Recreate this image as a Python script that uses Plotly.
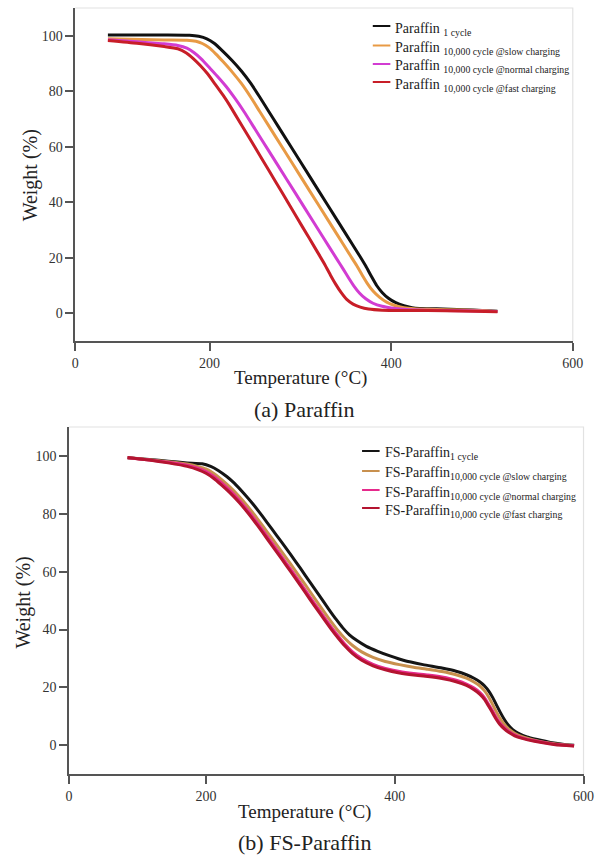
import plotly.graph_objects as go

# ---------------- (a) Paraffin ----------------
pa_black_T = [88,150,178,188,197,205,215,225,235,245,255,265,275,290,310,330,350,365,372,378,384,390,397,405,414,423,431,450,480,500,517]
pa_black_W = [100.3,100.3,100.2,99.8,98.9,97.3,94.3,91.0,87.3,83.0,78.0,72.8,67.6,59.8,49.4,39.0,28.6,20.8,17.0,13.4,10.0,7.5,5.4,3.8,2.7,2.0,1.7,1.6,1.3,1.0,0.7]

pa_slow_T = [88,150,175,185,192,199,207,215,225,235,245,255,265,280,300,320,340,355,362,368,374,380,387,395,404,414,425,440,480,500,517]
pa_slow_W = [98.9,98.5,98.4,98.0,97.2,95.8,93.4,90.6,86.9,82.8,78.0,72.8,67.6,59.8,49.4,39.0,28.6,20.8,17.2,13.8,10.6,8.0,5.8,4.0,2.8,2.0,1.6,1.4,1.2,1.0,0.6]

pa_normal_T = [88,120,150,165,175,183,191,199,208,218,228,238,250,265,285,305,325,340,347,353,359,365,372,380,390,400,410,420,440,480,517]
pa_normal_W = [98.6,97.8,97.1,96.5,95.5,93.9,91.6,88.8,85.6,81.8,77.4,72.6,66.4,58.6,48.2,37.8,27.4,19.6,16.0,12.8,9.8,7.3,5.2,3.6,2.5,1.9,1.5,1.3,1.1,0.9,0.6]

pa_fast_T = [88,120,150,165,174,182,190,198,206,215,222,235,250,265,280,295,310,320,327,333,339,345,351,358,366,375,390,420,460,490,517]
pa_fast_W = [98.3,97.3,96.1,95.3,93.9,91.8,89.2,86.2,82.6,78.5,75.0,67.9,59.8,51.6,43.4,35.1,26.9,21.4,17.5,13.8,10.4,7.4,5.0,3.3,2.2,1.5,1.1,1.0,0.9,0.7,0.5]

# ---------------- (b) FS-Paraffin ----------------
fs_black_T = [117,140,160,180,196,205,213,222,230,240,250,260,270,280,290,300,310,320,330,338,345,352,360,370,382,395,410,430,450,465,476,484,490,495,500,504,508,512,516,520,525,530,540,551,565,578,590]
fs_black_W = [99.4,98.8,98.2,97.6,97.3,96.4,95.0,92.9,90.6,87.1,83.3,79.1,74.7,70.3,65.8,61.2,56.5,51.8,47.1,43.5,40.6,38.2,36.2,34.2,32.5,30.9,29.3,27.9,26.7,25.6,24.4,23.2,22.0,20.6,18.6,16.4,13.8,11.3,9.0,7.1,5.4,4.3,2.9,2.0,1.0,0.4,0.0]

fs_T = [117,140,160,180,192,200,208,216,225,235,245,255,265,275,285,295,305,315,325,333,340,347,355,365,377,390,405,420,435,450,465,476,484,490,495,499,503,507,511,516,521,527,535,548,565,578,590]
fs_slow_W = [99.4,98.7,98.0,97.2,96.3,95.5,94.0,92.0,89.4,86.1,82.3,78.1,73.7,69.3,64.8,60.2,55.6,50.9,46.2,42.6,39.6,37.0,34.6,32.3,30.4,29.0,27.9,27.0,26.3,25.5,24.4,23.2,21.9,20.6,18.9,17.0,14.6,12.0,9.6,7.3,5.6,4.2,3.0,1.8,0.7,0.2,-0.1]
fs_normal_W = [99.4,98.6,97.8,96.8,95.7,94.6,93.0,90.9,88.2,84.8,80.9,76.6,72.1,67.6,63.0,58.4,53.7,49.0,44.4,40.8,37.8,35.0,32.4,30.0,28.0,26.6,25.5,24.8,24.3,23.6,22.5,21.2,19.8,18.3,16.5,14.4,12.2,9.9,7.9,6.1,4.8,3.6,2.6,1.6,0.6,0.1,-0.1]
fs_fast_W = [99.5,98.6,97.6,96.4,95.2,94.0,92.3,90.1,87.4,84.0,80.1,75.8,71.3,66.8,62.2,57.6,52.9,48.2,43.6,40.0,37.1,34.4,31.8,29.4,27.5,26.1,25.0,24.3,23.8,23.1,22.0,20.7,19.2,17.7,15.9,13.8,11.6,9.3,7.4,5.7,4.4,3.3,2.4,1.4,0.5,0.0,-0.2]

top_colors = ["#111111", "#E89A45", "#D23CD2", "#C81E28"]
bot_colors = ["#151515", "#C8904E", "#E62A8C", "#B41430"]

top_names = ["Paraffin <sub>1 cycle</sub>",
             "Paraffin <sub>10,000 cycle @slow charging</sub>",
             "Paraffin <sub>10,000 cycle @normal charging</sub>",
             "Paraffin <sub>10,000 cycle @fast charging</sub>"]
bot_names = ["FS-Paraffin<sub>1 cycle</sub>",
             "FS-Paraffin<sub>10,000 cycle @slow charging</sub>",
             "FS-Paraffin<sub>10,000 cycle @normal charging</sub>",
             "FS-Paraffin<sub>10,000 cycle @fast charging</sub>"]

x_ticks_top = [52, 200, 400, 600]
x_ticks_bot = [55, 200, 400, 600]
x_ticktext = ["0", "200", "400", "600"]
y_ticks = [0, 20, 40, 60, 80, 100]

W_PX, H_PX = 615, 858
FONT = "Liberation Serif"

def px(x):
    return x / W_PX

def py(y):
    return 1 - y / H_PX

fig = go.Figure()

top_series = [(pa_black_T, pa_black_W), (pa_slow_T, pa_slow_W),
              (pa_normal_T, pa_normal_W), (pa_fast_T, pa_fast_W)]
for (t, w), c, n in zip(top_series, top_colors, top_names):
    fig.add_trace(go.Scatter(x=t, y=w, mode="lines", name=n,
                             line=dict(color=c, width=3, shape="spline", smoothing=0.5),
                             xaxis="x", yaxis="y", showlegend=False))

bot_series = [(fs_black_T, fs_black_W), (fs_T, fs_slow_W),
              (fs_T, fs_normal_W), (fs_T, fs_fast_W)]
for (t, w), c, n in zip(bot_series, bot_colors, bot_names):
    fig.add_trace(go.Scatter(x=t, y=w, mode="lines", name=n,
                             line=dict(color=c, width=3, shape="spline", smoothing=0.5),
                             xaxis="x2", yaxis="y2", showlegend=False))

axis_common = dict(showline=True, linecolor="#555555", linewidth=1.5,
                   ticks="outside", ticklen=8, tickwidth=1.5, tickcolor="#555555",
                   showgrid=False, zeroline=False,
                   tickfont=dict(family=FONT, size=14, color="#333333"))

fig.update_layout(
    width=W_PX, height=H_PX,
    margin=dict(l=0, r=0, t=0, b=0),
    paper_bgcolor="white", plot_bgcolor="white",
    font=dict(family=FONT, size=14, color="#222222"),
    showlegend=False,
    xaxis=dict(domain=[px(73), px(583)], range=[52, 600], tickvals=x_ticks_top,
               ticktext=x_ticktext, anchor="y", **axis_common),
    yaxis=dict(domain=[py(341), py(8)], range=[-10, 110], tickvals=y_ticks,
               anchor="x", **axis_common),
    xaxis2=dict(domain=[px(66.7), px(594)], range=[55, 600], tickvals=x_ticks_bot,
                ticktext=x_ticktext, anchor="y2", **axis_common),
    yaxis2=dict(domain=[py(774.3), py(427)], range=[-10, 110], tickvals=y_ticks,
                anchor="x2", **axis_common),
)

shapes = []
# light grey frame (top and right) for each panel
for xr, yr in [("x domain", "y domain"), ("x2 domain", "y2 domain")]:
    shapes.append(dict(type="path", xref=xr, yref=yr, path="M 0,1 L 1,1 L 1,0",
                       line=dict(color="#e2e2e2", width=1.2), layer="below"))

annotations = []
# manual legends
top_rows = [26, 45.5, 64, 82]
for yrow, c, n in zip(top_rows, top_colors, top_names):
    shapes.append(dict(type="line", xref="paper", yref="paper",
                       x0=px(378), x1=px(396), y0=py(yrow), y1=py(yrow),
                       line=dict(color=c, width=2)))
    annotations.append(dict(xref="paper", yref="paper", x=px(399), y=py(yrow + 3),
                            text=n, showarrow=False, xanchor="left", yanchor="middle",
                            font=dict(family=FONT, size=14, color="#222222")))
bot_rows = [451, 471, 490, 508]
for yrow, c, n in zip(bot_rows, bot_colors, bot_names):
    shapes.append(dict(type="line", xref="paper", yref="paper",
                       x0=px(367), x1=px(385), y0=py(yrow), y1=py(yrow),
                       line=dict(color=c, width=2)))
    annotations.append(dict(xref="paper", yref="paper", x=px(388), y=py(yrow + 3),
                            text=n, showarrow=False, xanchor="left", yanchor="middle",
                            font=dict(family=FONT, size=14, color="#222222")))

# axis titles and captions
def label(text, x, y, size, angle=0):
    annotations.append(dict(xref="paper", yref="paper", x=px(x), y=py(y), text=text,
                            showarrow=False, xanchor="center", yanchor="middle",
                            textangle=angle,
                            font=dict(family=FONT, size=size, color="#222222")))

label("Weight (%)", 27, 175, 20, -90)
label("Temperature (°C)", 304, 378, 19)
label("(a) Paraffin", 308, 410, 22)
label("Weight (%)", 19, 603, 20, -90)
label("Temperature (°C)", 308, 812, 19)
label("(b) FS-Paraffin", 308, 842, 22)

fig.update_layout(shapes=shapes, annotations=annotations)
fig.write_html("out.html")
